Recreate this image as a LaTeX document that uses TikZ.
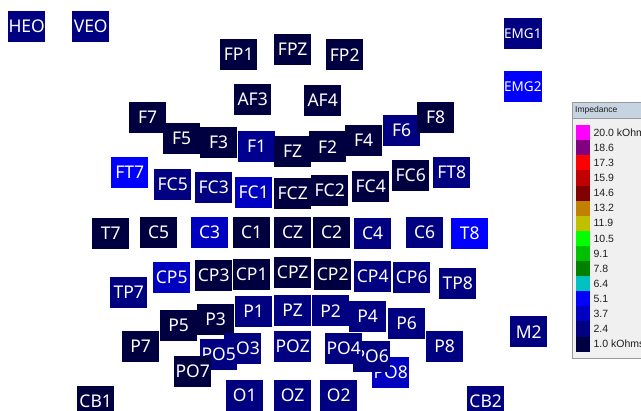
\documentclass[tikz,border=0pt]{standalone}
\usepackage{fontspec}
\setmainfont{Noto Sans}
\newfontfamily\legfont{Liberation Sans}
\definecolor{lvA}{HTML}{000040}
\definecolor{lvB}{HTML}{000080}
\definecolor{lvBp}{HTML}{00008E}
\definecolor{lvC}{HTML}{0000C0}
\definecolor{lvD}{HTML}{0000FF}
\definecolor{panelbg}{HTML}{F0F0F0}
\definecolor{headbg}{HTML}{C6D3E0}
\definecolor{panelline}{HTML}{9A9A9A}
\definecolor{legtext}{HTML}{1E1E1E}
\definecolor{imp200}{HTML}{FF00FF}
\definecolor{imp186}{HTML}{800080}
\definecolor{imp173}{HTML}{FF0000}
\definecolor{imp159}{HTML}{C00000}
\definecolor{imp146}{HTML}{800000}
\definecolor{imp132}{HTML}{C08000}
\definecolor{imp119}{HTML}{C0C000}
\definecolor{imp105}{HTML}{00FF00}
\definecolor{imp91}{HTML}{00C000}
\definecolor{imp78}{HTML}{008000}
\definecolor{imp64}{HTML}{00C0C0}
\definecolor{imp51}{HTML}{0000FF}
\definecolor{imp37}{HTML}{0000C0}
\definecolor{imp24}{HTML}{000080}
\definecolor{imp10}{HTML}{000040}
\tikzset{
  el/.style={fill=#1, rectangle, minimum width=37pt, minimum height=31pt,
    inner sep=0pt, anchor=north west, text=white,
    font=\fontsize{17.5}{18}\selectfont},
  emg/.style={el=#1, font=\fontsize{13.5}{14}\selectfont},
  pole/.style={inner sep=0pt, text=black, font=\fontsize{6}{6}\selectfont},
  swatch/.style={fill=#1, rectangle, minimum width=14pt, minimum height=15.1pt,
    inner sep=0pt, anchor=north west},
  leglabel/.style={anchor=west, inner sep=3pt, text=legtext,
    font=\legfont\fontsize{10.5}{11}\selectfont},
}
\begin{document}
\begin{tikzpicture}[x=1pt, y=-1pt]
\useasboundingbox (0,0) rectangle (641,411);

% eye and muscle channels
\node[el=lvB] (HEO) at (8,11) {HEO};
\node[el=lvB] (VEO) at (72,11) {VEO};
\node[emg=lvB] (EMG1) at (504,18) {EMG1};
\node[pole, text=lvA!60!black] at ([shift={(3,5)}]EMG1.north west) {+};
\node[pole] at ([shift={(-3,-6)}]EMG1.south east) {-};
\node[emg=lvD] (EMG2) at (504,71) {EMG2};
\node[pole] at ([shift={(3,5)}]EMG2.north west) {+};
\node[pole] at ([shift={(-3,-6)}]EMG2.south east) {-};

% frontal pole and anterior frontal
\node[el=lvA] (FP1) at (220,39) {FP1};
\node[el=lvA] (FPZ) at (274,34) {FPZ};
\node[el=lvA] (FP2) at (326,39) {FP2};
\node[el=lvA] (AF3) at (234,84) {AF3};
\node[el=lvA] (AF4) at (304,85) {AF4};

% frontal row
\node[el=lvA] (F7) at (129,102) {F7};
\node[el=lvA] (F5) at (163,123) {F5};
\node[el=lvA] (F3) at (200,127) {F3};
\node[el=lvBp] (F1) at (238,131) {F1};
\node[el=lvA] (FZ) at (274,136) {FZ};
\node[el=lvA] (F2) at (309,131) {F2};
\node[el=lvA] (F4) at (345,125) {F4};
\node[el=lvB] (F6) at (383,115) {F6};
\node[el=lvA] (F8) at (417,102) {F8};

% fronto-central row
\node[el=lvD] (FT7) at (111,157) {FT7};
\node[el=lvB] (FC5) at (154,169) {FC5};
\node[el=lvB] (FC3) at (195,172) {FC3};
\node[el=lvC] (FC1) at (235,177) {FC1};
\node[el=lvA] (FCZ) at (274,178) {FCZ};
\node[el=lvA] (FC2) at (311,175) {FC2};
\node[el=lvA] (FC4) at (352,171) {FC4};
\node[el=lvA] (FC6) at (392,160) {FC6};
\node[el=lvB] (FT8) at (433,157) {FT8};

% central row
\node[el=lvA] (T7) at (92,218) {T7};
\node[el=lvA] (C5) at (140,217) {C5};
\node[el=lvC] (C3) at (191,217) {C3};
\node[el=lvA] (C1) at (233,217) {C1};
\node[el=lvA] (CZ) at (274,217) {CZ};
\node[el=lvA] (C2) at (313,217) {C2};
\node[el=lvB] (C4) at (354,218) {C4};
\node[el=lvB] (C6) at (406,217) {C6};
\node[el=lvD] (T8) at (451,218) {T8};

% centro-parietal row
\node[el=lvB] (TP7) at (110,277) {TP7};
\node[el=lvC] (CP5) at (153,262) {CP5};
\node[el=lvA] (CP3) at (195,260) {CP3};
\node[el=lvA] (CP1) at (233,259) {CP1};
\node[el=lvA] (CPZ) at (274,257) {CPZ};
\node[el=lvA] (CP2) at (314,259) {CP2};
\node[el=lvB] (CP4) at (354,261) {CP4};
\node[el=lvB] (CP6) at (393,262) {CP6};
\node[el=lvB] (TP8) at (439,268) {TP8};

% parietal row
\node[el=lvA] (P7) at (122,331) {P7};
\node[el=lvA] (P5) at (160,310) {P5};
\node[el=lvA] (P3) at (197,304) {P3};
\node[el=lvB] (P1) at (235,296) {P1};
\node[el=lvB] (PZ) at (274,295) {PZ};
\node[el=lvB] (P2) at (312,295) {P2};
\node[el=lvB] (P4) at (349,301) {P4};
\node[el=lvB] (P6) at (388,308) {P6};
\node[el=lvB] (P8) at (426,331) {P8};
\node[el=lvB] (M2) at (510,316) {M2};

% parieto-occipital row (later nodes overlap earlier ones)
\node[el=lvB] (PO3) at (224,333) {PO3};
\node[el=lvB] (PO5) at (200,339) {PO5};
\node[el=lvA] (PO7) at (174,356) {PO7};
\node[el=lvB] (POZ) at (274,331) {POZ};
\node[el=lvC] (PO8) at (372,357) {PO8};
\node[el=lvB] (PO6) at (353,341) {PO6};
\node[el=lvB] (PO4) at (325,333) {PO4};

% occipital and cerebellar
\node[el=lvB] (O1) at (226,380) {O1};
\node[el=lvB] (OZ) at (274,380) {OZ};
\node[el=lvB] (O2) at (320,380) {O2};
\node[el=lvA] (CB1) at (77,386) {CB1};
\node[el=lvB] (CB2) at (467,386) {CB2};

% impedance legend
\node[fill=panelbg, draw=panelline, rectangle, anchor=north west, inner sep=0pt,
  minimum width=90pt, minimum height=256pt] (legend) at (572,102) {};
\node[fill=headbg, draw=panelline, rectangle, anchor=north west, inner sep=0pt,
  minimum width=90pt, minimum height=16pt] (leghead) at (572,102) {};
\node[anchor=west, inner sep=0pt, text=legtext, font=\legfont\fontsize{8.5}{9}\selectfont]
  (legtitle) at ([xshift=3pt]leghead.west) {Impedance};
\foreach \c/\t [count=\i from 0] in {imp200/20.0 kOhms, imp186/18.6, imp173/17.3,
    imp159/15.9, imp146/14.6, imp132/13.2, imp119/11.9, imp105/10.5, imp91/9.1,
    imp78/7.8, imp64/6.4, imp51/5.1, imp37/3.7, imp24/2.4, imp10/1.0 kOhms} {
  \node[swatch=\c] (sw\i) at (576,{125+15.1*\i}) {};
  \node[leglabel] (lab\i) at (sw\i.east) {\t};
}
\end{tikzpicture}
\end{document}
